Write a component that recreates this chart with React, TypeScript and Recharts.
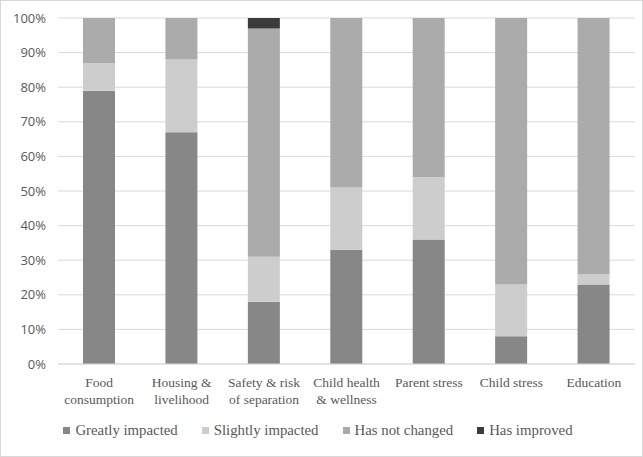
import React from 'react';
import { BarChart, Bar, XAxis, YAxis, CartesianGrid, Legend } from 'recharts';

const categories = ['Food\nconsumption', 'Housing &\nlivelihood', 'Safety & risk\nof separation', 'Child health\n& wellness', 'Parent stress', 'Child stress', 'Education'];
const greatlyImpacted = [79, 67, 18, 33, 36, 8, 23];
const slightlyImpacted = [8, 21, 13, 18, 18, 15, 3];
const hasNotChanged = [13, 12, 66, 49, 46, 77, 74];
const hasImproved = [0, 0, 3, 0, 0, 0, 0];
const yTicks = [0, 10, 20, 30, 40, 50, 60, 70, 80, 90, 100];

const series = [
  { key: 'greatly', name: 'Greatly impacted', color: '#878787' },
  { key: 'slightly', name: 'Slightly impacted', color: '#cdcdcd' },
  { key: 'notChanged', name: 'Has not changed', color: '#ababab' },
  { key: 'improved', name: 'Has improved', color: '#3b3b3b' },
];

const data = categories.map((c, i) => ({
  category: c,
  greatly: greatlyImpacted[i],
  slightly: slightlyImpacted[i],
  notChanged: hasNotChanged[i],
  improved: hasImproved[i],
}));

const serif = '"Liberation Serif", serif';

const XTick = (props: any) => {
  const { x, y, payload } = props;
  const lines = String(payload.value).split('\n');
  return (
    <text x={x} y={y + 15} textAnchor="middle" fill="#595959" fontFamily={serif} fontSize={13.5}>
      {lines.map((l, i) => (
        <tspan key={i} x={x} dy={i === 0 ? 0 : 17}>{l}</tspan>
      ))}
    </text>
  );
};

const LegendContent = () => (
  <div style={{ display: 'flex', justifyContent: 'center', gap: 24, fontFamily: serif, fontSize: 14.8, color: '#595959' }}>
    {series.map((s) => (
      <div key={s.key} style={{ display: 'flex', alignItems: 'center' }}>
        <span style={{ display: 'inline-block', width: 7, height: 7, background: s.color, marginRight: 5 }} />
        <span>{s.name}</span>
      </div>
    ))}
  </div>
);

export default function App() {
  return (
    <div style={{ position: 'absolute', left: 0, top: 0, width: 641, height: 455, border: '1px solid #d9d9d9', background: '#fff' }}>
      <BarChart
        width={641}
        height={455}
        data={data}
        margin={{ top: 17, right: 7, left: 0, bottom: 0 }}
      >
        <CartesianGrid vertical={false} stroke="#d9d9d9" />
        <XAxis
          dataKey="category"
          interval={0}
          tick={<XTick />}
          tickLine={false}
          axisLine={{ stroke: '#d9d9d9' }}
          height={54}
        />
        <YAxis
          domain={[0, 100]}
          ticks={yTicks}
          tickFormatter={(v: number) => `${v}%`}
          tick={{ fill: '#595959', fontSize: 13, fontFamily: '"Open Sans", sans-serif' }}
          tickLine={false}
          axisLine={false}
          width={57}
          tickMargin={6}
          interval={0}
        />
        <Legend verticalAlign="bottom" height={38} content={<LegendContent />} wrapperStyle={{ top: 421 }} />
        {series.map((s) => (
          <Bar key={s.key} dataKey={s.key} name={s.name} stackId="a" fill={s.color} barSize={32} isAnimationActive={false} />
        ))}
      </BarChart>
    </div>
  );
}
